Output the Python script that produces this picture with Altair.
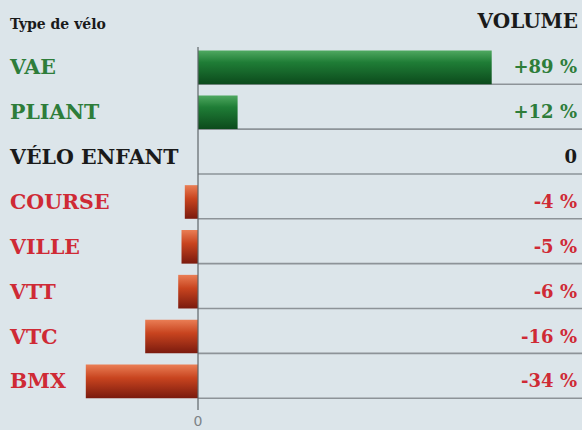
import altair as alt
import pandas as pd

categories = ["VAE", "PLIANT", "VÉLO ENFANT", "COURSE", "VILLE", "VTT", "VTC", "BMX"]
values = [89, 12, 0, -4, -5, -6, -16, -34]
value_labels = ["+89 %", "+12 %", "0", "-4 %", "-5 %", "-6 %", "-16 %", "-34 %"]
signs = ["pos" if v > 0 else ("neg" if v < 0 else "zero") for v in values]
axis_ticks = [0]

df = pd.DataFrame({"cat": categories, "val": values, "lab": value_labels, "sign": signs})

W, H = 582, 430
xscale = alt.Scale(domain=[-60, 116.36], nice=False, zero=False)
yscale = alt.Scale(domain=categories, range=[45, 403.8], paddingInner=0.25, paddingOuter=0.125)
color_scale = alt.Scale(domain=["pos", "zero", "neg"], range=["#2e7d3a", "#1a1a1a", "#cf2a35"])
FONT = "DejaVu Serif"

base = alt.Chart(df).transform_calculate(zero_x="0")

green_grad = alt.Gradient(
    gradient="linear", x1=0, x2=0, y1=0, y2=1,
    stops=[alt.GradientStop(color="#4fa860", offset=0),
           alt.GradientStop(color="#1f7d36", offset=0.35),
           alt.GradientStop(color="#0c4a1c", offset=1)])
red_grad = alt.Gradient(
    gradient="linear", x1=0, x2=0, y1=0, y2=1,
    stops=[alt.GradientStop(color="#ea7e55", offset=0),
           alt.GradientStop(color="#c8441f", offset=0.4),
           alt.GradientStop(color="#7a1a0e", offset=1)])

y_enc = alt.Y("cat:N", scale=yscale, axis=None)

rules = base.mark_rule(color="#8d9398", strokeWidth=1.6).encode(
    y=alt.Y("cat:N", scale=yscale, axis=None, bandPosition=1),
    x=alt.X("zero_x:Q", scale=xscale, axis=None),
    x2=alt.value(W),
)

bars_pos = base.transform_filter("datum.val > 0").mark_bar(color=green_grad).encode(
    x=alt.X("val:Q", scale=xscale, axis=None), x2=alt.X2("zero_x:Q"), y=y_enc
)
bars_neg = base.transform_filter("datum.val < 0").mark_bar(color=red_grad).encode(
    x=alt.X("val:Q", scale=xscale, axis=None), x2=alt.X2("zero_x:Q"), y=y_enc
)

ticks_df = pd.DataFrame({"z": axis_ticks, "t": [str(v) for v in axis_ticks]})
zero_line = alt.Chart(ticks_df).mark_rule(color="#5f6569", strokeWidth=1.2).encode(
    x=alt.X("z:Q", scale=xscale, axis=None), y=alt.value(47), y2=alt.value(410)
)
zero_label = alt.Chart(ticks_df).mark_text(align="center", baseline="middle", font="DejaVu Sans",
                                           fontSize=14, color="#7d8387").encode(
    x=alt.X("z:Q", scale=xscale, axis=None), y=alt.value(422), text="t:N"
)

cat_text = base.mark_text(align="left", baseline="middle", font=FONT, fontWeight="bold",
                          fontSize=20.5, dy=1).encode(
    x=alt.value(10), y=y_enc,
    text="cat:N",
    color=alt.Color("sign:N", scale=color_scale, legend=None),
)
val_text = base.mark_text(align="right", baseline="middle", font=FONT, fontWeight="bold",
                          fontSize=18, dy=1).encode(
    x=alt.value(577), y=y_enc,
    text="lab:N",
    color=alt.Color("sign:N", scale=color_scale, legend=None),
)

h1 = alt.Chart(pd.DataFrame({"t": ["Type de vélo"]})).mark_text(
    align="left", baseline="middle", font=FONT, fontWeight="bold",
    fontSize=14, color="#1a1a1a").encode(x=alt.value(10), y=alt.value(25), text="t:N")
h2 = alt.Chart(pd.DataFrame({"t": ["VOLUME"]})).mark_text(
    align="right", baseline="middle", font=FONT, fontWeight="bold",
    fontSize=20, color="#1a1a1a").encode(x=alt.value(578), y=alt.value(22), text="t:N")

chart = alt.layer(rules, bars_pos, bars_neg, zero_line, zero_label, cat_text, val_text, h1, h2).properties(
    width=W, height=H, padding=0, autosize="none", background="#dce5ea"
).configure_view(stroke=None)

chart.save("out.html", embed_options={"renderer": "svg", "actions": False})
